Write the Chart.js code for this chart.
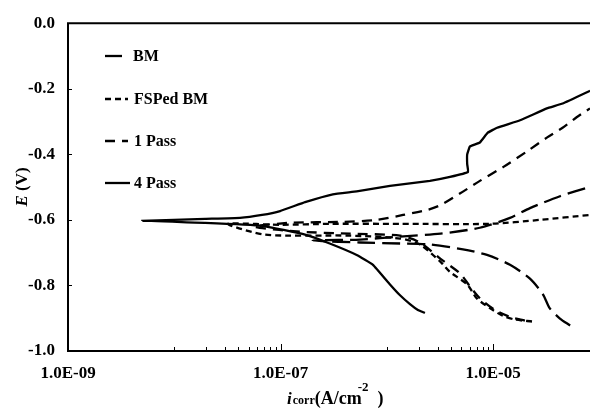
<!DOCTYPE html>
<html><head><meta charset="utf-8">
<script src="https://cdn.jsdelivr.net/npm/chart.js@4/dist/chart.umd.min.js"></script>
<style>html,body{margin:0;padding:0;background:#fff;}#wrap{width:590px;height:409px;position:relative;}</style>
</head><body>
<div id="wrap"><canvas id="c" width="590" height="409"></canvas></div>
<script>
// Series names
const seriesNames = ['BM', 'FSPed BM', '1 Pass', '4 Pass'];

// Current density (A/cm^2) and potential E (V); path: cathodic end -> Ecorr tip -> anodic end
const bmI = [5.3e-5, 4.25e-5, 3.4e-5, 2.94e-5, 2.22e-5, 1.44e-5, 8.75e-6, 5.2e-6, 2.54e-6, 1.33e-6, 5.6e-7, 2.0e-7, 5.6e-7, 1.33e-6, 3.2e-6, 7.5e-6, 1.44e-5, 2.22e-5, 4.25e-5, 8.15e-5];
const bmE = [-0.922, -0.901, -0.869, -0.827, -0.779, -0.737, -0.707, -0.690, -0.675, -0.672, -0.669, -0.663, -0.660, -0.651, -0.642, -0.624, -0.594, -0.564, -0.528, -0.499];

const fspI = [2.32e-5, 1.6e-5, 1.24e-5, 9.3e-6, 7.0e-6, 5.7e-6, 3.9e-6, 3.2e-6, 2.05e-6, 1.33e-6, 4.5e-7, 7.1e-8, 3.2e-8, 9.9e-8, 2.9e-7, 1.33e-6, 9.3e-6, 2.75e-5, 8.15e-5];
const fspE = [-0.910, -0.904, -0.893, -0.869, -0.839, -0.797, -0.758, -0.728, -0.675, -0.657, -0.648, -0.645, -0.612, -0.615, -0.612, -0.612, -0.612, -0.600, -0.585];

const p1I = [1.99e-5, 1.44e-5, 1.04e-5, 7.5e-6, 6.05e-6, 4.9e-6, 3.2e-6, 2.05e-6, 1.33e-6, 4.5e-7, 1.52e-7, 5.7e-8, 1.22e-7, 3.9e-7, 8.1e-7, 1.42e-6, 2.38e-6, 3.2e-6, 4.9e-6, 7.5e-6, 1.24e-5, 2.08e-5, 3.2e-5, 4.5e-5, 6.1e-5, 8.15e-5];
const p1E = [-0.907, -0.896, -0.875, -0.839, -0.803, -0.764, -0.719, -0.669, -0.648, -0.642, -0.636, -0.621, -0.609, -0.606, -0.600, -0.585, -0.570, -0.555, -0.519, -0.481, -0.439, -0.391, -0.349, -0.319, -0.287, -0.260];

const p4I = [2.28e-6, 1.96e-6, 1.65e-6, 1.33e-6, 1.07e-6, 7.4e-7, 5.2e-7, 2.9e-7, 1.7e-7, 6.7e-8, 1.95e-8, 5.0e-9, 1.95e-8, 4.15e-8, 6.7e-8, 9.9e-8, 1.7e-7, 3.1e-7, 5.2e-7, 1.07e-6, 2.54e-6, 3.93e-6, 5.8e-6, 5.7e-6, 5.7e-6, 6.05e-6, 7.5e-6, 8.9e-6, 1.09e-5, 1.79e-5, 3.2e-5, 4.5e-5, 8.15e-5];
const p4E = [-0.884, -0.875, -0.857, -0.830, -0.797, -0.737, -0.707, -0.672, -0.645, -0.618, -0.609, -0.603, -0.597, -0.594, -0.585, -0.573, -0.546, -0.522, -0.513, -0.496, -0.481, -0.469, -0.454, -0.430, -0.400, -0.376, -0.364, -0.334, -0.319, -0.296, -0.260, -0.245, -0.206];

// Axis ticks
const xLabelValues = [1e-9, 1e-7, 1e-5];
const xTickLabels = ['1.0E-09', '1.0E-07', '1.0E-05'];
const xMinorTicks = [1e-8, 2e-8, 3e-8, 4e-8, 5e-8, 6e-8, 7e-8, 8e-8, 9e-8, 1e-6, 2e-6, 3e-6, 4e-6, 5e-6, 6e-6, 7e-6, 8e-6, 9e-6];
const xMajorTicks = [1e-7, 1e-5];
const yTickValues = [0, -0.2, -0.4, -0.6, -0.8, -1.0];
const yTickLabels = ['0.0', '-0.2', '-0.4', '-0.6', '-0.8', '-1.0'];
const xMin = 1e-9, xMax = 8.15e-5, yMin = -1.0, yMax = 0;

const FONT = '"Liberation Serif", "Times New Roman", serif';
const dashes = [[18, 7], [6, 4], [10, 7], []];
const tensions = [0.25, 0.25, 0.25, 0.1];

function pts(I, E) { return I.map((v, k) => ({ x: v, y: E[k] })); }
const allData = [pts(bmI, bmE), pts(fspI, fspE), pts(p1I, p1E), pts(p4I, p4E)];

const datasets = seriesNames.map((n, i) => ({
  label: n,
  data: allData[i],
  borderColor: '#000',
  backgroundColor: '#000',
  borderWidth: 2.3,
  borderDash: dashes[i],
  pointRadius: 0,
  fill: false,
  tension: tensions[i]
}));

const decor = {
  id: 'decor',
  afterDraw(chart) {
    const ctx = chart.ctx, a = chart.chartArea;
    const xs = chart.scales.x, ys = chart.scales.y;
    ctx.save();
    ctx.strokeStyle = '#000';
    ctx.fillStyle = '#000';
    ctx.setLineDash([]);
    // frame: top, left, bottom
    ctx.lineWidth = 2;
    ctx.beginPath();
    ctx.moveTo(a.right, a.top); ctx.lineTo(a.left, a.top);
    ctx.lineTo(a.left, a.bottom); ctx.lineTo(a.right, a.bottom);
    ctx.stroke();
    // inside ticks
    ctx.lineWidth = 1;
    ctx.beginPath();
    xMinorTicks.forEach(v => { const px = Math.round(xs.getPixelForValue(v)) + 0.5; ctx.moveTo(px, a.bottom); ctx.lineTo(px, a.bottom - 4); });
    xMajorTicks.forEach(v => { const px = Math.round(xs.getPixelForValue(v)) + 0.5; ctx.moveTo(px, a.bottom); ctx.lineTo(px, a.bottom - 7); });
    yTickValues.forEach(v => { const py = Math.round(ys.getPixelForValue(v)) + 0.5; ctx.moveTo(a.left, py); ctx.lineTo(a.left + 4, py); });
    ctx.stroke();
    // legend
    const legY = [56, 99, 141, 183];
    const legEnd = [122, 128, 128, 130];
    chart.data.datasets.forEach((d, i) => {
      ctx.lineWidth = 2.3;
      ctx.setLineDash(d.borderDash || []);
      ctx.beginPath();
      ctx.moveTo(105, legY[i]); ctx.lineTo(legEnd[i], legY[i]);
      ctx.stroke();
      ctx.setLineDash([]);
      ctx.font = 'bold 16px ' + FONT;
      ctx.textBaseline = 'middle';
      ctx.textAlign = 'left';
      ctx.fillText(d.label, i === 0 ? 133 : 134, legY[i] + 1);
    });
    // y title
    ctx.save();
    ctx.translate(27, 187);
    ctx.rotate(-Math.PI / 2);
    ctx.textBaseline = 'alphabetic';
    ctx.textAlign = 'left';
    ctx.font = 'italic bold 17px ' + FONT;
    const wE = ctx.measureText('E').width;
    ctx.font = 'bold 17px ' + FONT;
    const wV = ctx.measureText(' (V)').width;
    let sx = -(wE + wV) / 2;
    ctx.font = 'italic bold 17px ' + FONT;
    ctx.fillText('E', sx, 0);
    ctx.font = 'bold 17px ' + FONT;
    ctx.fillText(' (V)', sx + wE, 0);
    ctx.restore();
    // x title
    ctx.textBaseline = 'alphabetic';
    ctx.textAlign = 'left';
    let x = 287; const base = 404;
    ctx.font = 'italic bold 17px ' + FONT; ctx.fillText('i', x, base); x += ctx.measureText('i').width + 1;
    ctx.font = 'bold 12px ' + FONT; ctx.fillText('corr', x, base); x += ctx.measureText('corr').width;
    ctx.font = 'bold 18px ' + FONT; ctx.fillText('(A/cm', x, base); x += ctx.measureText('(A/cm').width;
    ctx.font = 'bold 13px ' + FONT; ctx.fillText('-2', x - 4, base - 13); x += ctx.measureText('-2').width;
    ctx.font = 'bold 18px ' + FONT; ctx.fillText(')', x + 5, base);
    ctx.restore();
  }
};

new Chart(document.getElementById('c'), {
  type: 'line',
  data: { datasets },
  options: {
    responsive: false,
    animation: false,
    devicePixelRatio: 1,
    layout: { padding: { top: 16, right: 0, left: 0, bottom: 0 } },
    plugins: { legend: { display: false }, tooltip: { enabled: false } },
    scales: {
      x: {
        type: 'logarithmic', position: 'bottom', min: xMin, max: xMax, bounds: 'data',
        afterBuildTicks: s => { s.ticks = xLabelValues.map(v => ({ value: v })); },
        afterFit: s => { s.height = 58; },
        ticks: {
          autoSkip: false, maxRotation: 0, padding: 12, color: '#000',
          font: { family: FONT, size: 17, weight: 'bold' },
          callback: (v, i) => xTickLabels[i]
        },
        grid: { display: false, drawTicks: false },
        border: { display: false }
      },
      y: {
        type: 'linear', min: yMin, max: yMax,
        afterBuildTicks: s => { s.ticks = yTickValues.map(v => ({ value: v })); },
        afterFit: s => { s.width = 68; },
        ticks: {
          padding: 13, color: '#000',
          font: { family: FONT, size: 17, weight: 'bold' },
          callback: (v, i) => yTickLabels[i]
        },
        grid: { display: false, drawTicks: false },
        border: { display: false }
      }
    }
  },
  plugins: [decor]
});
</script>
</body></html>
